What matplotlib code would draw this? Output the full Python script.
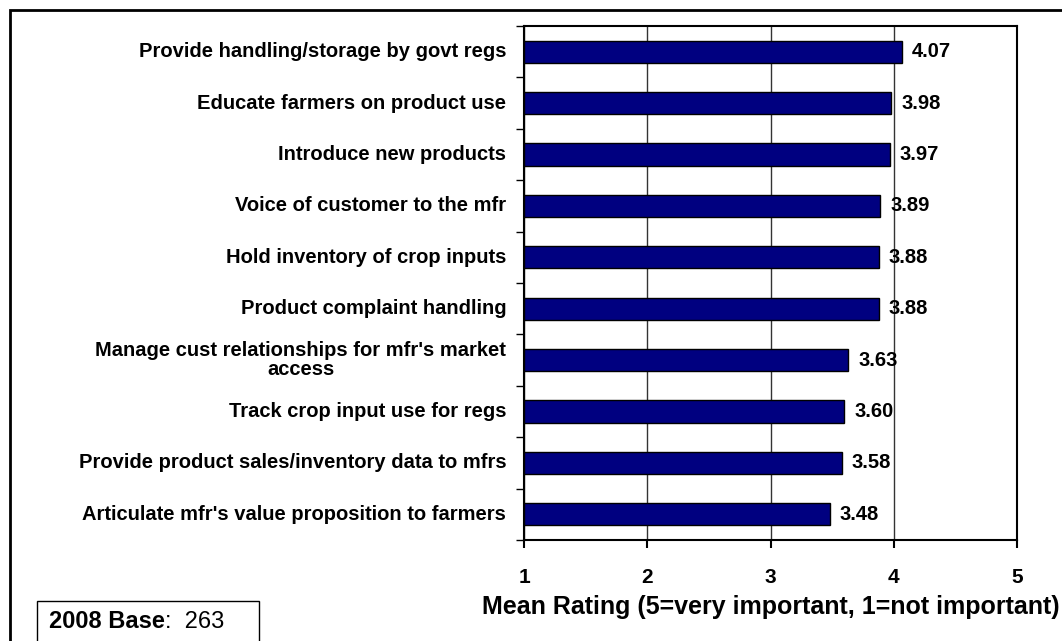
import matplotlib.pyplot as plt
from matplotlib.patches import Rectangle

plt.rcParams['font.family'] = ['Liberation Sans', 'DejaVu Sans']

# data, top to bottom as in the chart
labels = [
    "Provide handling/storage by govt regs",
    "Educate farmers on product use",
    "Introduce new products",
    "Voice of customer to the mfr",
    "Hold inventory of crop inputs",
    "Product complaint handling",
    "Manage cust relationships for mfr's market\naccess",
    "Track crop input use for regs",
    "Provide product sales/inventory data to mfrs",
    "Articulate mfr's value proposition to farmers",
]
ratings = [4.07, 3.98, 3.97, 3.89, 3.88, 3.88, 3.63, 3.60, 3.58, 3.48]
x_ticks = [1, 2, 3, 4, 5]

W, H = 1062, 641
fig = plt.figure(figsize=(W / 100, H / 100), dpi=100)

# outer frame (cut off at right and bottom like the original)
fig.patches.append(Rectangle((10 / W, -0.1), 1.2, (H - 10) / H + 0.1,
                             transform=fig.transFigure, fill=False,
                             edgecolor='black', linewidth=2))

ax = fig.add_axes([524 / W, 1 - 540 / H, (1017 - 524) / W, (540 - 26) / H])

n = len(labels)
ypos = list(range(n))
ax.barh(ypos, [r - 1 for r in ratings], left=1, height=0.43,
        color='#000080', edgecolor='black', linewidth=1, zorder=3)

for y, r in zip(ypos, ratings):
    ax.text(r + 0.08, y, f"{r:.2f}", va='center', ha='left',
            fontsize=14.5, fontweight='bold', zorder=4)

ax.set_xlim(1, 5)
ax.set_ylim(n - 0.5, -0.5)
ax.set_xticks(x_ticks)
ax.set_xticklabels([str(t) for t in x_ticks], fontsize=15, fontweight='bold')
ax.tick_params(axis='x', direction='out', length=6, width=1.5, pad=14)
ax.grid(axis='x', color='#333333', linewidth=1, zorder=0)

# category labels, tick marks between categories
ax.set_yticks([i + 0.5 for i in range(-1, n)])
ax.set_yticklabels([])
ax.tick_params(axis='y', direction='out', length=6, width=1)
for y, lab in zip(ypos, labels):
    ax.text(-0.036, y, lab, transform=ax.get_yaxis_transform(),
            ha='right', va='center', fontsize=14.5, fontweight='bold',
            multialignment='center', linespacing=1.0)

for s in ax.spines.values():
    s.set_linewidth(1.5)

ax.set_xlabel("Mean Rating (5=very important, 1=not important)",
              fontsize=18, fontweight='bold', labelpad=6)

# base box
fig.patches.append(Rectangle((37 / W, -0.1), (259 - 37) / W, (H - 601) / H + 0.1,
                             transform=fig.transFigure, fill=False,
                             edgecolor='black', linewidth=1))
t = fig.text(49 / W, 1 - 622 / H, "2008 Base", fontsize=17, fontweight='bold',
             va='center', ha='left')
fig.canvas.draw()
bb = t.get_window_extent()
fig.text(bb.x1 / W, 1 - 622 / H, ":  263", fontsize=17, va='center', ha='left')

fig.savefig('out.png', dpi=100)
